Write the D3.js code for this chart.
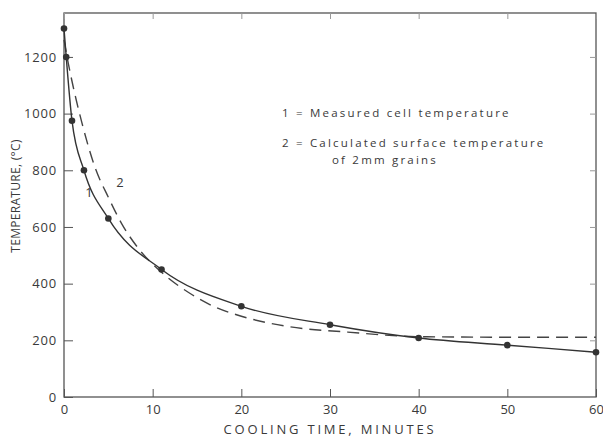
<!DOCTYPE html>
<html>
<head>
<meta charset="utf-8">
<script src="https://cdn.jsdelivr.net/npm/d3@7"></script>
<style>
  body { margin: 0; background: #fff; }
  text { font-family: "Open Sans", "DejaVu Sans", sans-serif; fill: #3a3a3a; }
</style>
</head>
<body>
<div id="root"></div>
<script>
// measured cell temperature (curve 1)
const measuredTime = [0, 0.25, 0.9, 2.25, 5, 11, 20, 30, 40, 50, 60];
const measuredTemp = [1300, 1200, 975, 800, 630, 450, 320, 255, 208, 183, 158];

// calculated surface temperature of 2mm grains (curve 2)
const calcTime = [0, 0.5, 1, 2, 3.5, 5, 6.5, 8.5, 11, 14.5, 17, 20, 25, 32, 40, 50, 60];
const calcTemp = [1260, 1175, 1100, 970, 810, 705, 612, 520, 440, 360, 318, 285, 250, 229, 213, 211, 211];

const xTicks = [0, 10, 20, 30, 40, 50, 60];
const yTicks = [0, 200, 400, 600, 800, 1000, 1200];

const legendLines = [
  { text: "1 = Measured cell temperature", dx: 0, dy: 0 },
  { text: "2 = Calculated surface temperature", dx: 0, dy: 30 },
  { text: "of 2mm grains", dx: 50, dy: 47 }
];

const w = 603, h = 440;
const margin = { top: 13, right: 7, bottom: 43, left: 64 };

const svg = d3.select("#root").append("svg")
  .attr("width", w)
  .attr("height", h);

const x = d3.scaleLinear().domain([0, 60]).range([margin.left, w - margin.right]);
const y = d3.scaleLinear().domain([0, 1355]).range([h - margin.bottom, margin.top]);

const axisColor = "#555";

// frame
svg.append("rect")
  .attr("x", x(0)).attr("y", y(1355))
  .attr("width", x(60) - x(0)).attr("height", y(0) - y(1355))
  .attr("fill", "none").attr("stroke", axisColor).attr("stroke-width", 1.3);

// bottom axis, ticks pointing inward
const xAxis = svg.append("g")
  .attr("transform", `translate(0,${y(0)})`)
  .call(d3.axisBottom(x).tickValues(xTicks).tickSize(-8).tickPadding(8));
xAxis.select(".domain").remove();
xAxis.selectAll("line").attr("stroke", axisColor);
xAxis.selectAll("text").style("font-size", "13px").attr("fill", "#3a3a3a");

// top ticks
svg.append("g")
  .attr("transform", `translate(0,${y(1355)})`)
  .call(d3.axisTop(x).tickValues(xTicks).tickSize(-6).tickFormat(""))
  .call(g => g.select(".domain").remove())
  .selectAll("line").attr("stroke", "#999");

// left axis
const yAxis = svg.append("g")
  .attr("transform", `translate(${x(0)},0)`)
  .call(d3.axisLeft(y).tickValues(yTicks).tickFormat(d3.format("d")).tickSize(-9).tickPadding(7));
yAxis.select(".domain").remove();
yAxis.selectAll("line").attr("stroke", axisColor);
yAxis.selectAll("text").style("font-size", "13px").style("letter-spacing", "0.8px").attr("fill", "#3a3a3a");

// right ticks
svg.append("g")
  .attr("transform", `translate(${x(60)},0)`)
  .call(d3.axisRight(y).tickValues(yTicks).tickSize(-6).tickFormat(""))
  .call(g => g.select(".domain").remove())
  .selectAll("line").attr("stroke", "#999");

// axis titles
svg.append("text")
  .attr("x", 330)
  .attr("y", 434)
  .attr("text-anchor", "middle")
  .style("font-size", "13px")
  .style("letter-spacing", "2.8px")
  .text("COOLING TIME, MINUTES");

svg.append("text")
  .attr("transform", `translate(20,196) rotate(-90)`)
  .attr("text-anchor", "middle")
  .style("font-size", "12px")
  .style("letter-spacing", "0.3px")
  .text("TEMPERATURE, (°C)");

// curves
const measured = measuredTime.map((t, i) => [t, measuredTemp[i]]);
const calc = calcTime.map((t, i) => [t, calcTemp[i]]);

const line = d3.line()
  .x(d => x(d[0]))
  .y(d => y(d[1]))
  .curve(d3.curveMonotoneX);

svg.append("path")
  .datum(calc)
  .attr("d", line)
  .attr("fill", "none")
  .attr("stroke", "#444")
  .attr("stroke-width", 1.4)
  .attr("stroke-dasharray", "12,7");

svg.append("path")
  .datum(measured)
  .attr("d", line)
  .attr("fill", "none")
  .attr("stroke", "#333")
  .attr("stroke-width", 1.4);

svg.selectAll(".pt")
  .data(measured)
  .enter()
  .append("circle")
  .attr("class", "pt")
  .attr("cx", d => x(d[0]))
  .attr("cy", d => y(d[1]))
  .attr("r", 3.3)
  .attr("fill", "#333");

// curve labels
svg.append("text").attr("x", x(2.4)).attr("y", y(705)).style("font-size", "13px").style("fill", "#3a3a3a").text("1");
svg.append("text").attr("x", x(5.9)).attr("y", y(740)).style("font-size", "13px").style("fill", "#3a3a3a").text("2");

// legend
const legend = svg.append("g").attr("transform", "translate(282,117)");
legend.selectAll("text")
  .data(legendLines)
  .enter()
  .append("text")
  .attr("x", d => d.dx)
  .attr("y", d => d.dy)
  .style("font-size", "11.5px")
  .style("letter-spacing", "2.2px")
  .text(d => d.text);
</script>
</body>
</html>
